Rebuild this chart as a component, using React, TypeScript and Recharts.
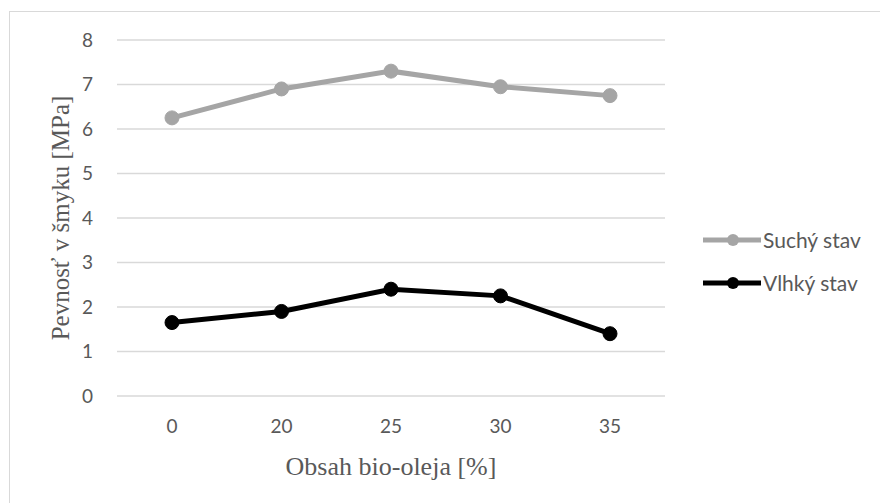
import { LineChart, Line, XAxis, YAxis, CartesianGrid, Legend } from 'recharts';

// Obsah bio-oleja [%]
const categories = ['0', '20', '25', '30', '35'];
const suchy = [6.25, 6.9, 7.3, 6.95, 6.75];
const vlhky = [1.65, 1.9, 2.4, 2.25, 1.4];
const yTicks = [0, 1, 2, 3, 4, 5, 6, 7, 8];

const GRAY = '#a5a5a5';
const TEXT = '#595959';
const SANS = 'Lato, "Open Sans", sans-serif';
const SERIF = '"Liberation Serif", "DejaVu Serif", serif';

const data = categories.map((c, i) => ({ cat: c, suchy: suchy[i], vlhky: vlhky[i] }));

function LegendBox({ payload }: any) {
  return (
    <div style={{ fontFamily: SANS, fontSize: 21, color: TEXT }}>
      {(payload || []).map((p: any) => (
        <div key={p.value} style={{ display: 'flex', alignItems: 'center', height: 43 }}>
          <svg width={58} height={14} style={{ marginRight: 2 }}>
            <line x1={0} y1={7} x2={58} y2={7} stroke={p.color} strokeWidth={5} />
            <circle cx={30} cy={7} r={6} fill={p.color} />
          </svg>
          <span>{p.value}</span>
        </div>
      ))}
    </div>
  );
}

export default function App() {
  return (
    <div style={{ position: 'absolute', left: 0, top: 0, width: 880, height: 503, overflow: 'hidden', background: '#fff' }}>
      <div style={{ position: 'absolute', left: 9, top: 11, width: 900, height: 520, border: '1px solid #d9d9d9' }} />
      <LineChart width={880} height={503} data={data} margin={{ top: 40, right: 38, bottom: 0, left: 0 }}
        style={{ position: 'absolute', left: 0, top: 0 }}>
        <CartesianGrid vertical={false} stroke="#d9d9d9" strokeWidth={1.5} />
        <XAxis dataKey="cat" height={107} axisLine={false} tickLine={false} tickSize={0} tickMargin={24}
          padding={{ left: 55, right: 55 }}
          tick={{ fill: TEXT, fontSize: 19, fontFamily: SANS }}
          label={{ value: 'Obsah bio-oleja [%]', position: 'insideBottom', offset: 28, fill: TEXT, fontSize: 26, fontFamily: SERIF }} />
        <YAxis width={117} domain={[0, 8]} ticks={yTicks} axisLine={false} tickLine={false} tickSize={0} tickMargin={24}
          tick={{ fill: TEXT, fontSize: 19, fontFamily: SANS }}
          label={{ value: 'Pevnosť v šmyku [MPa]', angle: -90, position: 'insideLeft', offset: 60, fill: TEXT, fontSize: 25, fontFamily: SERIF, style: { textAnchor: 'middle' } }} />
        <Legend layout="vertical" align="right" verticalAlign="top" content={<LegendBox />}
          wrapperStyle={{ left: 703, top: 218, width: 177 }} />
        <Line dataKey="suchy" name="Suchý stav" stroke={GRAY} strokeWidth={5} isAnimationActive={false}
          dot={{ r: 7, fill: GRAY, stroke: GRAY, strokeWidth: 1 }} />
        <Line dataKey="vlhky" name="Vlhký stav" stroke="#000" strokeWidth={5} isAnimationActive={false}
          dot={{ r: 7, fill: '#000', stroke: '#000', strokeWidth: 1 }} />
      </LineChart>
    </div>
  );
}
